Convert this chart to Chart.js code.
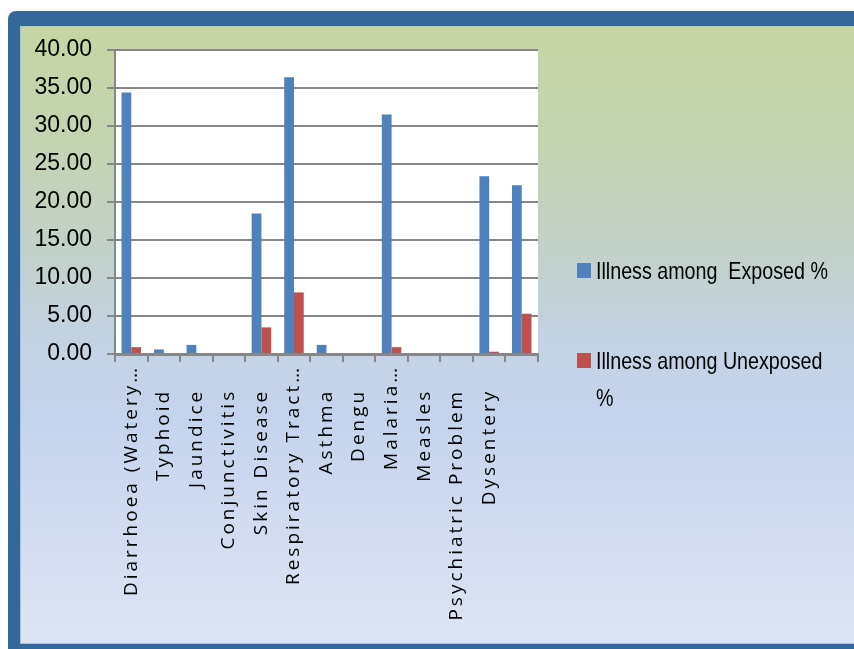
<!DOCTYPE html>
<html>
<head>
<meta charset="utf-8">
<script src="https://cdn.jsdelivr.net/npm/chart.js@4"></script>
<style>
  html, body { margin: 0; padding: 0; width: 854px; height: 649px; overflow: hidden; background: #ffffff; }
  #frame { position: absolute; left: 8px; top: 11px; width: 900px; height: 700px; background: #34679A; border-radius: 8px; }
  #panel {
    position: absolute; left: 20px; top: 26px; width: 900px; height: 618px; box-sizing: border-box;
    border-left: 1px solid #A9C0DF; border-top: 1px solid #B9CCA4; border-bottom: 1px solid #A9BEE0;
    background: linear-gradient(to bottom, #C5D6A3 0%, #C4D4B0 18%, #C2D1C8 36%, #C3D2E2 50%, #C5D4EE 64%, #D2DCF1 82%, #DDE5F4 100%);
  }
  canvas { position: absolute; left: 0; top: 0; }
</style>
</head>
<body>
<div id="frame"></div>
<div id="panel"></div>
<canvas id="chart" width="854" height="649"></canvas>
<script>
// Illness categories (x axis) and the two percentage series
const categories = [
  'Diarrhoea (Watery\u2026', 'Typhoid   ', 'Jaundice   ', 'Conjunctivitis   ', 'Skin Disease   ',
  'Respiratory Tract\u2026', 'Asthma   ', 'Dengu   ', 'Malaria\u2026', 'Measles   ',
  'Psychiatric Problem   ', 'Dysentery   ', ''
];
const exposedPct   = [34.4, 0.6, 1.2, 0, 18.5, 36.4, 1.2, 0, 31.5, 0, 0, 23.4, 22.2];
const unexposedPct = [0.9,  0,   0,   0, 3.5,  8.1,  0,   0, 0.9,  0, 0, 0.3,  5.3];
const seriesNames  = ['Illness among  Exposed %', 'Illness among Unexposed %'];
const seriesColors = ['#4F81BD', '#C0504D'];

// y axis range and step
const yMin = 0, yMax = 40, yStep = 5;

const GRID = '#878787';
const X_LABEL_SPACING = 3.0;
const LEGEND_SQUEEZE = 0.82;

// Category axis whose labels are drawn with extra letter spacing
class SpacedCategoryScale extends Chart.CategoryScale {
  static id = 'spacedCategory';
  drawLabels(chartArea) {
    const ctx = this.ctx;
    const prev = ctx.letterSpacing;
    ctx.letterSpacing = X_LABEL_SPACING + 'px';
    super.drawLabels(chartArea);
    ctx.letterSpacing = prev;
  }
}
Chart.register(SpacedCategoryScale);

// White plotting area behind grid and bars
const plotBackground = {
  id: 'plotBackground',
  beforeDraw(chart) {
    const { ctx, chartArea: a } = chart;
    ctx.save();
    ctx.fillStyle = '#ffffff';
    ctx.fillRect(a.left, a.top, a.right - a.left, a.bottom - a.top);
    ctx.restore();
  }
};

function wrapText(ctx, text, maxWidth) {
  const words = text.split(' ');
  const lines = [];
  let line = '';
  for (const w of words) {
    const test = line === '' ? w : line + ' ' + w;
    if (line !== '' && w !== '' && ctx.measureText(test).width * LEGEND_SQUEEZE > maxWidth) {
      lines.push(line);
      line = w;
    } else {
      line = test;
    }
  }
  lines.push(line);
  return lines;
}

// Legend at the right of the plot, one entry per series (narrow lettering)
const sideLegend = {
  id: 'sideLegend',
  afterDraw(chart) {
    const { ctx, chartArea: a } = chart;
    const x0 = a.right + 39;
    const rowTops = [263, 353];
    ctx.save();
    ctx.font = "24px 'Liberation Sans', Arial, sans-serif";
    ctx.textBaseline = 'middle';
    ctx.textAlign = 'left';
    chart.data.datasets.forEach((ds, i) => {
      const top = rowTops[i];
      ctx.fillStyle = ds.backgroundColor;
      ctx.fillRect(x0, top, 14, 15);
      ctx.fillStyle = '#000000';
      const lines = wrapText(ctx, ds.label, 244);
      lines.forEach((ln, j) => {
        ctx.save();
        ctx.translate(x0 + 19, top + 9 + j * 37);
        ctx.scale(LEGEND_SQUEEZE, 1);
        ctx.fillText(ln, 0, 0);
        ctx.restore();
      });
    });
    ctx.restore();
  }
};

new Chart(document.getElementById('chart'), {
  type: 'bar',
  data: {
    labels: categories,
    datasets: [
      { label: seriesNames[0], data: exposedPct,   backgroundColor: seriesColors[0], borderWidth: 0 },
      { label: seriesNames[1], data: unexposedPct, backgroundColor: seriesColors[1], borderWidth: 0 }
    ]
  },
  options: {
    responsive: false,
    animation: false,
    devicePixelRatio: 1,
    layout: { padding: { left: 20, top: 50, right: 316, bottom: 29 } },
    datasets: { bar: { categoryPercentage: 0.6, barPercentage: 1.0 } },
    plugins: {
      legend: { display: false },
      tooltip: { enabled: false }
    },
    scales: {
      x: {
        type: 'spacedCategory',
        offset: true,
        grid: { offset: true, drawOnChartArea: false, drawTicks: true, tickLength: 8, color: GRID, lineWidth: 2 },
        border: { display: true, color: GRID, width: 3 },
        ticks: {
          autoSkip: false, maxRotation: 90, minRotation: 90, padding: 3,
          color: '#000000',
          font: { family: "'Open Sans', sans-serif", size: 19 }
        },
        afterFit(scale) { scale.height = 266; }
      },
      y: {
        min: yMin, max: yMax,
        grid: { color: GRID, lineWidth: 2, tickLength: 8, drawTicks: true },
        border: { display: true, color: GRID, width: 2 },
        ticks: {
          stepSize: yStep, padding: 15, color: '#000000',
          font: { family: "'Liberation Sans', sans-serif", size: 23 },
          callback: (v) => Number(v).toFixed(2)
        },
        afterFit(scale) { scale.width = 95; }
      }
    }
  },
  plugins: [plotBackground, sideLegend]
});
</script>
</body>
</html>
